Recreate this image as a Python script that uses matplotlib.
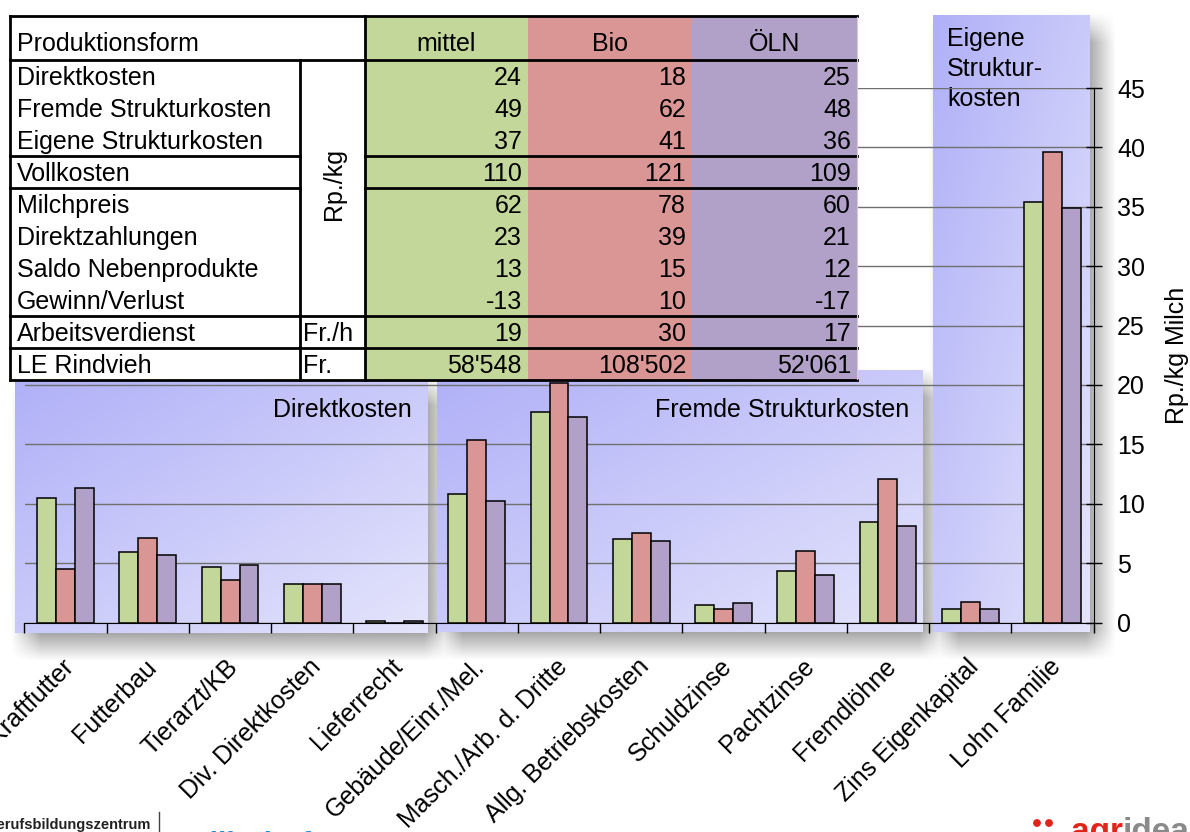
import numpy as np
import matplotlib
matplotlib.use('Agg')
import matplotlib.pyplot as plt
from matplotlib.patches import Rectangle, Circle

plt.rcParams['font.family'] = ['Liberation Sans', 'DejaVu Sans']

# =============================================================================
# Data
# =============================================================================
series = ['mittel', 'Bio', 'ÖLN']
colors = ['#c4d79b', '#da9694', '#b1a0c7']

categories = ['Kraftfutter', 'Futterbau', 'Tierarzt/KB', 'Div. Direktkosten', 'Lieferrecht',
              'Gebäude/Einr./Mel.', 'Masch./Arb. d. Dritte', 'Allg. Betriebskosten',
              'Schuldzinse', 'Pachtzinse', 'Fremdlöhne', 'Zins Eigenkapital', 'Lohn Familie']
mittel = [10.5, 5.9, 4.7, 3.2, 0.1, 10.8, 17.7, 7.0, 1.5, 4.3, 8.5, 1.15, 35.4]
bio = [4.5, 7.1, 3.6, 3.2, 0.0, 15.4, 20.2, 7.5, 1.15, 6.0, 12.1, 1.7, 39.6]
oeln = [11.3, 5.7, 4.8, 3.2, 0.1, 10.2, 17.3, 6.9, 1.6, 4.0, 8.1, 1.1, 34.9]

row_labels = ['Direktkosten', 'Fremde Strukturkosten', 'Eigene Strukturkosten', 'Vollkosten',
              'Milchpreis', 'Direktzahlungen', 'Saldo Nebenprodukte', 'Gewinn/Verlust',
              'Arbeitsverdienst', 'LE Rindvieh']
tab_mittel = ['24', '49', '37', '110', '62', '23', '13', '-13', '19', "58'548"]
tab_bio = ['18', '62', '41', '121', '78', '39', '15', '10', '30', "108'502"]
tab_oeln = ['25', '48', '36', '109', '60', '21', '12', '-17', '17', "52'061"]

# =============================================================================
# Figure and background (panels + shadows), pixel coordinates
# =============================================================================
W, H = 1190, 832
fs = 18
fig = plt.figure(figsize=(W / 100, H / 100), dpi=100)

bg = fig.add_axes([0, 0, 1, 1], zorder=0)
bg.axis('off')

panels = [(15, 378, 428, 633), (437, 370, 923, 632), (933, 15, 1090, 632)]

# Drop shadow
yy, xx = np.mgrid[0:H, 0:W].astype(float) + 0.5
dx, dy, r = 11, 13, 15
def ramp(t):
    return np.clip(0.5 + t / (2 * r), 0, 1)
alpha = np.zeros((H, W))
for x0, y0, x1, y1 in panels:
    a = ramp(xx - x0 - dx) * ramp(x1 + dx - xx) * ramp(yy - y0 - dy) * ramp(y1 + dy - yy)
    alpha = np.maximum(alpha, a)
shadow = np.zeros((H, W, 4))
shadow[..., 3] = alpha * 0.38
bg.imshow(shadow, extent=(0, W, H, 0), interpolation='bilinear', zorder=1)

# Gradient panels
c1 = np.array([176, 176, 248]) / 255
c2 = np.array([228, 228, 252]) / 255
for x0, y0, x1, y1 in panels:
    gy, gx = np.mgrid[0:1:64j, 0:1:64j]
    t = (gx + gy) / 2
    img = c1 * (1 - t)[..., None] + c2 * t[..., None]
    bg.imshow(img, extent=(x0, x1, y1, y0), interpolation='bilinear', zorder=2, aspect='auto')

bg.text(412, 410, 'Direktkosten', ha='right', va='center', fontsize=fs, zorder=3)
bg.text(909, 410, 'Fremde Strukturkosten', ha='right', va='center', fontsize=fs, zorder=3)
bg.text(947, 27, 'Eigene\nStruktur-\nkosten', ha='left', va='top', fontsize=fs,
        linespacing=1.32, zorder=3)
bg.set_xlim(0, W)
bg.set_ylim(H, 0)

# =============================================================================
# Bar chart
# =============================================================================
ax = fig.add_axes([24.5 / W, 1 - 622.5 / H, 1069 / W, 534.5 / H], zorder=1)
ax.patch.set_alpha(0)
x = np.arange(len(categories))
bw = 0.23
for k, (vals, c) in enumerate(zip([mittel, bio, oeln], colors)):
    ax.bar(x + (k - 1) * bw, vals, width=bw, color=c, edgecolor='black', linewidth=1.1, zorder=3)

ax.set_xlim(-0.5, len(categories) - 0.5)
ax.set_ylim(0, 45)
ax.set_yticks(np.arange(0, 50, 5))
ax.yaxis.tick_right()
ax.yaxis.set_label_position('right')
ax.grid(axis='y', color='#707070', linewidth=1)
ax.set_axisbelow(True)
ax.tick_params(axis='y', direction='inout', length=12, width=1, labelsize=fs, pad=11)
ax.set_ylabel('Rp./kg Milch', fontsize=fs, labelpad=14)

ax.set_xticks(np.arange(-0.5, len(categories), 1))
ax.set_xticklabels([])
ax.set_xticks(x - 0.05, minor=True)
ax.set_xticklabels(categories, minor=True, rotation=45, ha='right', va='top',
                   rotation_mode='anchor', fontsize=fs)
ax.tick_params(axis='x', which='major', direction='out', length=7, width=1)
ax.tick_params(axis='x', which='minor', length=0, pad=23)

for s in ['left', 'top']:
    ax.spines[s].set_visible(False)
ax.spines['right'].set_color('black')
ax.spines['bottom'].set_color('black')

# =============================================================================
# Table overlay
# =============================================================================
tab = fig.add_axes([0, 0, 1, 1], zorder=2)
tab.axis('off')
tab.patch.set_alpha(0)
tab.set_xlim(0, W)
tab.set_ylim(H, 0)
tab.set_autoscale_on(False)

col_x = [10, 300, 365, 528, 692, 857]
row_y = [16, 59.5] + list(59.5 + 32 * np.arange(1, 11))
top, bot = row_y[0], row_y[-1]

tab.add_patch(Rectangle((col_x[0], top), col_x[2] - col_x[0], bot - top, fc='white', ec='none'))
for j, c in enumerate(colors):
    tab.add_patch(Rectangle((col_x[2 + j], top), col_x[3 + j] - col_x[2 + j], bot - top,
                            fc=c, ec='none'))

hy = (row_y[0] + row_y[1]) / 2 + 6
tab.text(col_x[0] + 7, hy, 'Produktionsform', va='center', fontsize=fs)
for j, name in enumerate(series):
    tab.text((col_x[2 + j] + col_x[3 + j]) / 2, hy, name, ha='center', va='center', fontsize=fs)

for i, lab in enumerate(row_labels):
    yc = (row_y[i + 1] + row_y[i + 2]) / 2 + 2.5
    tab.text(col_x[0] + 7, yc, lab, va='center', fontsize=fs)
    for j, vals in enumerate([tab_mittel, tab_bio, tab_oeln]):
        tab.text(col_x[3 + j] - 6, yc, vals[i], ha='right', va='center', fontsize=fs)

tab.text((col_x[1] + col_x[2]) / 2 + 1, (row_y[1] + row_y[9]) / 2 - 3, 'Rp./kg', rotation=90,
         ha='center', va='center', fontsize=fs)
tab.text(col_x[1] + 3, (row_y[9] + row_y[10]) / 2 + 2.5, 'Fr./h', va='center', fontsize=fs)
tab.text(col_x[1] + 3, (row_y[10] + row_y[11]) / 2 + 2.5, 'Fr.', va='center', fontsize=fs)

lk = dict(color='black', lw=2, solid_capstyle='projecting')
for yv in [row_y[0], row_y[1], row_y[9], row_y[10], row_y[11]]:
    tab.plot([col_x[0], col_x[-1]], [yv, yv], **lk)
for yv in [row_y[4], row_y[5]]:
    tab.plot([col_x[0], col_x[1]], [yv, yv], **lk)
    tab.plot([col_x[2], col_x[-1]], [yv, yv], **lk)
tab.plot([col_x[0], col_x[0]], [top, bot], **lk)
tab.plot([col_x[1], col_x[1]], [row_y[1], bot], **lk)
tab.plot([col_x[2], col_x[2]], [top, bot], **lk)
tab.plot([col_x[-1], col_x[-1]], [top + 1, bot - 1], color='#f2c79a', lw=0.8)

# Logos at the bottom (cut off by the figure edge)
tab.text(-14, 818, 'Berufsbildungszentrum', fontsize=10.5, fontweight='bold', va='top',
         color='#222222')
tab.plot([159, 159], [812, 833], color='#444444', lw=1)
tab.text(166, 831, 'Wallierhof', fontsize=22, fontweight='bold', va='top', color='#1e8fd6')
tab.add_patch(Circle((1037, 823), 3.2, color='#e2231a'))
tab.add_patch(Circle((1049, 823), 3.2, color='#e2231a'))
t1 = tab.text(1071, 841, 'agr', fontsize=24, fontweight='bold', va='baseline', color='#e2231a')
fig.canvas.draw()
bb = t1.get_window_extent()
x_end = tab.transData.inverted().transform((bb.x1, bb.y0))[0]
tab.text(x_end, 841, 'idea', fontsize=24, fontweight='bold', va='baseline', color='#8a8a8a')

fig.savefig('out.png', dpi=100)
